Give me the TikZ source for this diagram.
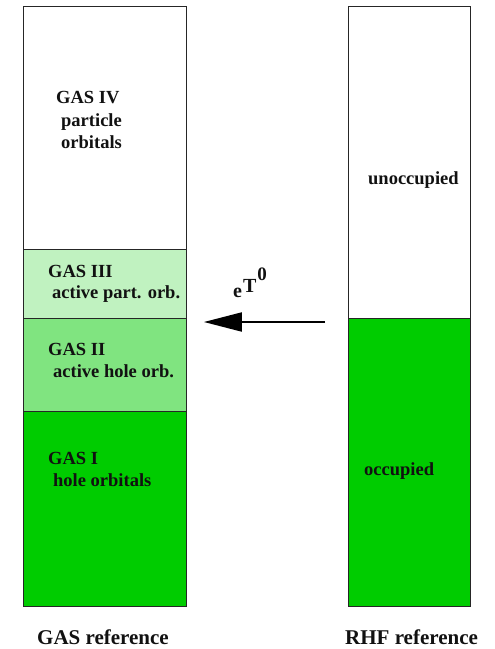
\documentclass[tikz,border=0pt]{standalone}
\usepackage{fontspec}
\setmainfont{Liberation Serif}
\usetikzlibrary{arrows.meta}
\definecolor{gasI}{HTML}{00CC00}
\definecolor{gasII}{HTML}{80E480}
\definecolor{gasIII}{HTML}{C0F2C0}
\definecolor{txt}{HTML}{111111}
\tikzset{
  x=1pt, y=-1pt,
  orb/.style={draw=black!85, line width=0.9pt, inner sep=0pt, anchor=north west, minimum width=#1},
  lab/.style={anchor=base west, inner sep=0pt, text=txt, font=\fontsize{18.5}{22}\selectfont\bfseries},
  big/.style={anchor=base west, inner sep=0pt, text=txt, font=\fontsize{21}{25}\selectfont\bfseries},
  excite/.style={line width=2pt, -{Triangle[length=38pt,width=19pt]}}
}
\begin{document}
\begin{tikzpicture}
\useasboundingbox (0,0) rectangle (495,649);
% GAS column
\node[orb=163pt, minimum height=243pt] (g4) at (23,6) {};
\node[orb=163pt, minimum height=69pt, fill=gasIII] (g3) at (23,249) {};
\node[orb=163pt, minimum height=93pt, fill=gasII] (g2) at (23,318) {};
\node[orb=163pt, minimum height=195pt, fill=gasI] (g1) at (23,411) {};
% RHF column
\node[orb=122pt, minimum height=312pt] (unocc) at (348,6) {};
\node[orb=122pt, minimum height=288pt, fill=gasI] (occ) at (348,318) {};
% labels
\node[lab] (t4a) at (56,103) {GAS IV};
\node[lab] (t4b) at (61,126) {particle};
\node[lab] (t4c) at (61,148) {orbitals};
\node[lab] (t3a) at (48,277) {GAS III};
\node[lab] (t3b) at (52,298) {active part. orb.};
\node[lab] (t2a) at (48,355) {GAS II};
\node[lab] (t2b) at (53,377) {active hole orb.};
\node[lab] (t1a) at (48,464) {GAS I};
\node[lab] (t1b) at (53,486) {hole orbitals};
\node[lab] (tu) at (368,184) {unoccupied};
\node[lab] (to) at (364,475) {occupied};
\node[big] (gref) at (37,644) {GAS reference};
\node[big] (rref) at (345,644) {RHF reference};
% excitation arrow
\draw[excite] ([shift={(-23,4)}]occ.north west) -- ([shift={(17,4)}]g2.north east);
\node[anchor=base west, inner sep=0pt, text=txt, font=\fontsize{20}{22}\selectfont\bfseries] (eT) at (233,297)
  {e\kern1pt\raisebox{5pt}{T\kern1pt\raisebox{12pt}{\fontsize{19}{21}\selectfont 0}}};
\end{tikzpicture}
\end{document}
